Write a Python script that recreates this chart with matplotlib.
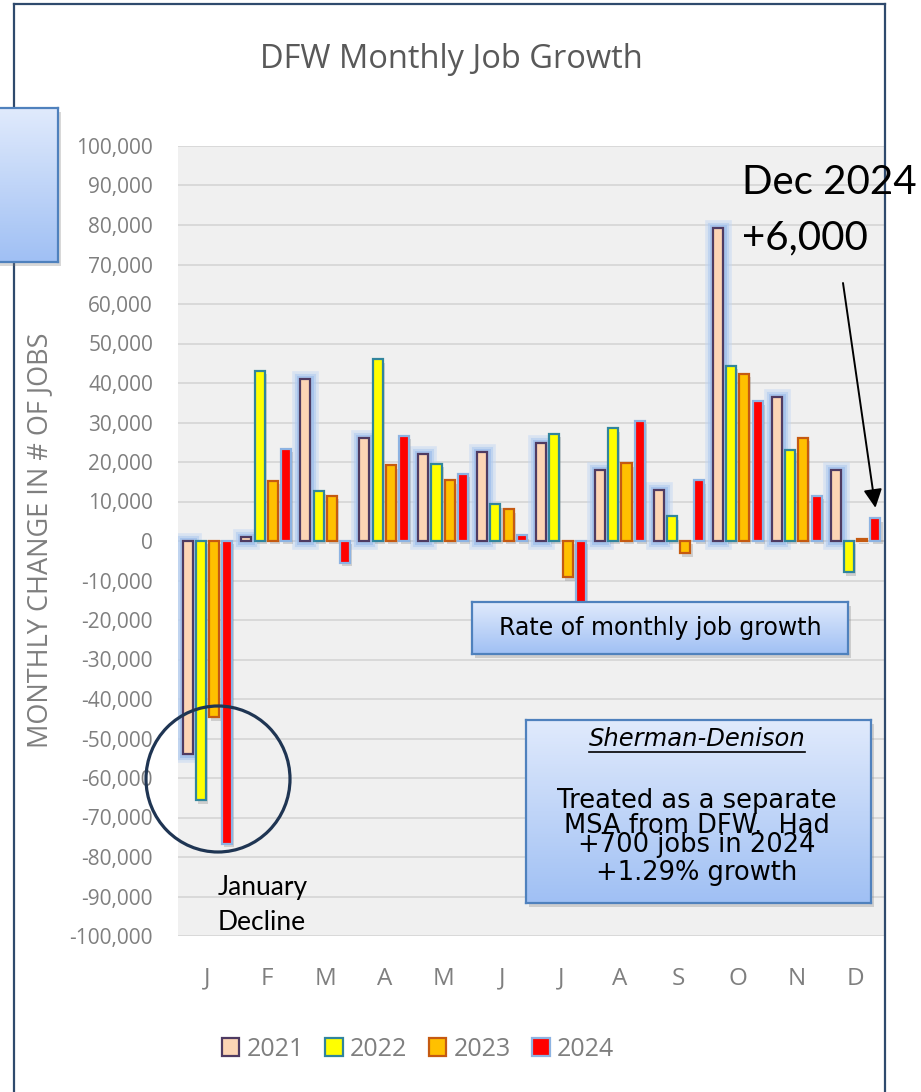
# DFW monthly job growth, change in jobs per month for 2021-2024
import matplotlib.pyplot as plt
import matplotlib.ticker as ticker
import matplotlib.patheffects as pe
from matplotlib.patches import Patch, Rectangle, Ellipse
from matplotlib.lines import Line2D
from matplotlib.colors import LinearSegmentedColormap
import numpy as np

months = ['J', 'F', 'M', 'A', 'M', 'J', 'J', 'A', 'S', 'O', 'N', 'D']
years = ['2021', '2022', '2023', '2024']

jobs_2021 = [-54000, 1100, 41000, 26200, 21900, 22600, 24700, 17900, 13000, 79200, 36500, 18000]
jobs_2022 = [-65600, 43100, 12700, 46000, 19500, 9300, 27100, 28600, 6300, 44400, 23100, -7900]
jobs_2023 = [-44600, 15300, 11500, 19200, 15400, 8000, -9200, 19700, -3100, 42400, 26100, 400]
jobs_2024 = [-76700, 23400, -5500, 26600, 17000, 1400, -18000, 30500, 15400, 35400, 11400, 5700]

series = [jobs_2021, jobs_2022, jobs_2023, jobs_2024]
fills = ['#fcd5b5', '#ffff00', '#ffc000', '#ff0000']
edges = ['#4f3b62', '#31859c', '#c55a11', '#8db3e2']

W, H = 921, 1092
fig = plt.figure(figsize=(W / 100, H / 100), dpi=100)


def fx(px):
    return px / W


def fy(py):
    return 1 - py / H


# main plot area
ax = fig.add_axes([fx(178), fy(936), fx(885) - fx(178), fy(146) - fy(936)])
ax.set_facecolor('#f0f0f0')
for s in ax.spines.values():
    s.set_visible(False)

x = np.arange(len(months))
step = 0.225
bw = 0.17
shadow = pe.SimplePatchShadow(offset=(1.5, -2.5), shadow_rgbFace='#808080', alpha=0.3)
glow = [pe.Stroke(linewidth=12, foreground='#c3d7f3', alpha=0.5),
        pe.Stroke(linewidth=8, foreground='#b0cbef', alpha=0.6),
        pe.Stroke(linewidth=5, foreground='#9dbeec', alpha=0.7)]
for i, vals in enumerate(series):
    effects = [shadow, pe.Normal()]
    if i == 0:
        effects = [shadow] + glow + [pe.Normal()]
    ax.bar(x + (i - 1.5) * step, vals, width=bw, color=fills[i], edgecolor=edges[i],
           linewidth=1.6, zorder=3, path_effects=effects)

ax.set_xlim(-0.5, 11.5)
ax.set_ylim(-100000, 100000)
ax.yaxis.set_major_locator(ticker.MultipleLocator(10000))
ax.yaxis.set_major_formatter(ticker.FuncFormatter(lambda v, pos: '{:,.0f}'.format(v)))
ax.set_xticks(x)
ax.set_xticklabels(months)
ax.grid(axis='y', color='#d9d9d9', linewidth=1.4, zorder=0)
ax.axhline(0, color='#c8c8c8', linewidth=1.4, zorder=2)
ax.set_axisbelow(True)
ax.tick_params(axis='y', length=0, pad=18, labelsize=15, labelcolor='#7f7f7f')
ax.tick_params(axis='x', length=0, pad=22, labelsize=17.5, labelcolor='#7f7f7f')
for lab in ax.get_xticklabels() + ax.get_yticklabels():
    lab.set_fontfamily('Open Sans')

fig.text(fx(40), fy(540), 'MONTHLY CHANGE IN # OF JOBS', rotation=90, ha='center', va='center',
         fontsize=19.5, color='#7f7f7f', family='Open Sans')
fig.text(fx(451), fy(60), 'DFW Monthly Job Growth', ha='center', va='center',
         fontsize=23.5, color='#595959', family='Open Sans')

# legend
handles = [Patch(facecolor=fills[i], edgecolor=edges[i], linewidth=1.6) for i in range(4)]
fig.legend(handles, years, loc='center', bbox_to_anchor=(fx(418), fy(1049)), ncol=4, frameon=False,
           handlelength=0.7, handleheight=0.7, handletextpad=0.3, columnspacing=0.85,
           prop={'family': 'Open Sans', 'size': 18}, labelcolor='#7f7f7f')

# outer frame
frame_kw = dict(color='#2f4a6d', linewidth=1.6, zorder=1.5)
fig.add_artist(Line2D([fx(14), fx(14)], [fy(4), 0], **frame_kw))
fig.add_artist(Line2D([fx(14), fx(885)], [fy(4), fy(4)], **frame_kw))
fig.add_artist(Line2D([fx(885), fx(885)], [fy(4), 0], **frame_kw))

cmap = LinearSegmentedColormap.from_list('boxgrad', ['#e0eafc', '#a0c0f4'])


def gradient_box(left, top, right, bottom):
    fig.add_artist(Rectangle((fx(left + 3), fy(bottom + 4)), fx(right - left), fy(top) - fy(bottom),
                             transform=fig.transFigure, facecolor='#7f7f7f', alpha=0.3,
                             edgecolor='none', zorder=1.8))
    bax = fig.add_axes([fx(left), fy(bottom), fx(right) - fx(left), fy(top) - fy(bottom)])
    bax.imshow(np.linspace(0, 1, 100).reshape(-1, 1), cmap=cmap, aspect='auto',
               extent=(0, 1, 0, 1), origin='upper')
    bax.set_xticks([])
    bax.set_yticks([])
    for s in bax.spines.values():
        s.set_color('#4f81bd')
        s.set_linewidth(1.6)
    bax.set_zorder(2)
    return bax


gradient_box(-6, 108, 58, 262)

rate_ax = gradient_box(472, 602, 848, 654)
rate_ax.text(0.5, 0.5, 'Rate of monthly job growth', ha='center', va='center',
             fontsize=17, color='black', family='DejaVu Sans', transform=rate_ax.transAxes)

sher_ax = gradient_box(526, 720, 871, 903)
title_t = fig.text(fx(697), fy(739), 'Sherman-Denison', ha='center', va='center', fontsize=17.5,
                   style='italic', color='black', family='DejaVu Sans', zorder=5)
# the lines overlap in the original text box, kept that way
box_lines = ['Treated as a separate', 'MSA from DFW.  Had', '+700 jobs in 2024', '+1.29% growth']
box_y = [801, 826, 845, 873]
for txt, yy in zip(box_lines, box_y):
    fig.text(fx(697), fy(yy), txt, ha='center', va='center', fontsize=18.5,
             color='black', family='DejaVu Sans', zorder=5)

# circle round the January bars
fig.add_artist(Ellipse((fx(218), fy(779)), fx(144), 146 / H, transform=fig.transFigure,
                       facecolor='none', edgecolor='#1f3553', linewidth=2.3, zorder=4))
fig.text(fx(218), fy(887), 'January', ha='left', va='center', fontsize=19, family='Lato', zorder=5)
fig.text(fx(218), fy(922), 'Decline', ha='left', va='center', fontsize=19, family='Lato', zorder=5)

# Dec 2024 callout
fig.text(fx(742), fy(182), 'Dec 2024', ha='left', va='center', fontsize=29, family='Lato', zorder=5)
fig.text(fx(742), fy(238), '+6,000', ha='left', va='center', fontsize=29, family='Lato', zorder=5)
ax.annotate('', xy=(11 + 1.5 * step, jobs_2024[11] + 2700), xycoords='data',
            xytext=(fx(843), fy(283)), textcoords='figure fraction',
            arrowprops=dict(arrowstyle='-|>', color='black', lw=1.4, mutation_scale=28,
                            shrinkA=0, shrinkB=0), annotation_clip=False, zorder=6)

# underline under the Sherman-Denison heading
fig.canvas.draw()
bb = title_t.get_window_extent()
fig.add_artist(Line2D([bb.x0 / W, bb.x1 / W], [(bb.y0 - 1) / H, (bb.y0 - 1) / H],
                      color='black', linewidth=1.2, zorder=5))

plt.savefig('out.png', dpi=100)
